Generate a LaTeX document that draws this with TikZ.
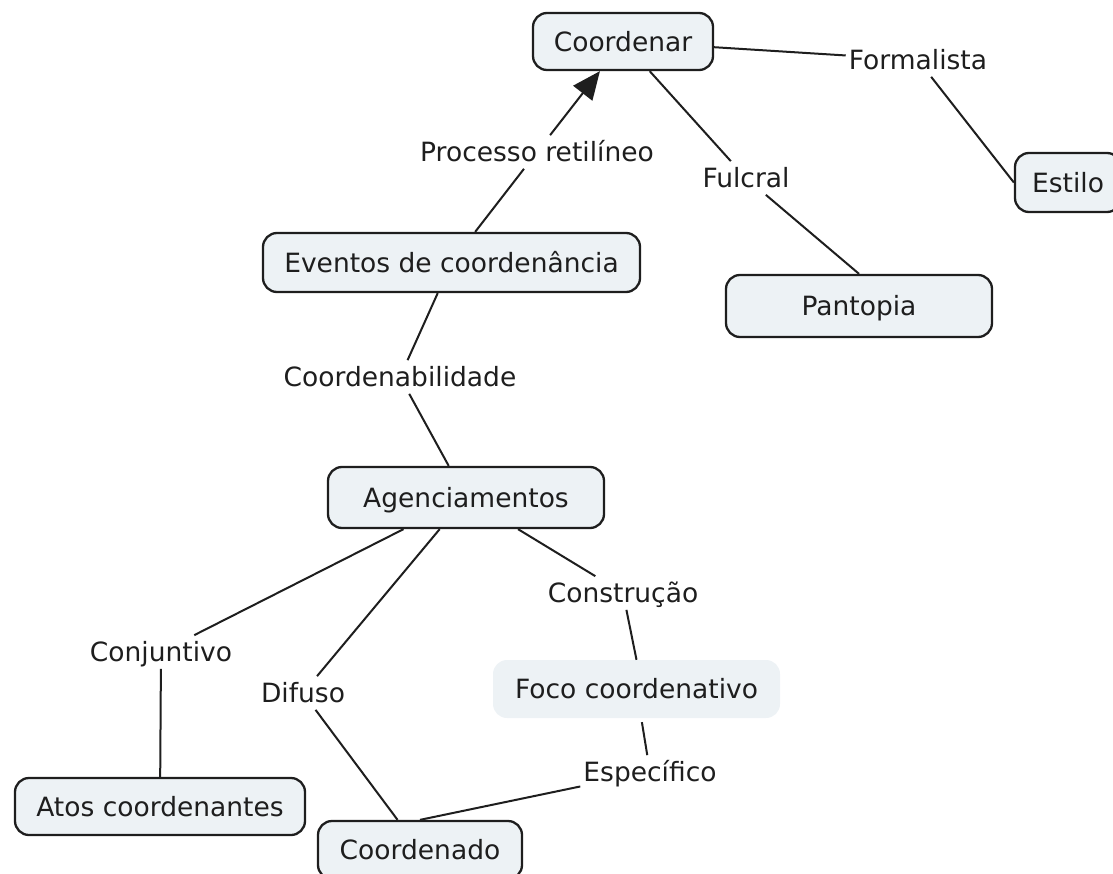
\documentclass[tikz,border=0pt]{standalone}
\usepackage{fontspec}
\setmainfont{DejaVu Sans}
\usetikzlibrary{arrows.meta}
\definecolor{boxfill}{HTML}{EDF2F5}
\definecolor{ink}{HTML}{1E1E1E}
\begin{document}
\begin{tikzpicture}[x=1pt,y=-1pt,
  font=\fontsize{26.5}{30}\selectfont,
  every node/.style={text=ink, text height=19.3pt, text depth=0pt},
  concept/.style={rectangle, rounded corners=14pt, draw=ink, fill=boxfill,
    line width=2.3pt, inner sep=0pt},
  plainbox/.style={rectangle, rounded corners=14pt, fill=boxfill, inner sep=0pt},
  linkword/.style={inner xsep=3pt, inner ysep=7pt},
  link/.style={draw=ink, line width=2pt},
  arrowlink/.style={link, -{Triangle[length=28pt,width=24pt]}}
]
\useasboundingbox (0,0) rectangle (1113,874);

% concepts
\node[concept, minimum width=180pt, minimum height=57pt] (coordenar) at (623,41.5) {Coordenar};
\node[concept, minimum width=106pt, minimum height=59pt] (estilo) at (1068,182.5) {Estilo};
\node[concept, minimum width=266pt, minimum height=62pt] (pantopia) at (859,306) {Pantopia};
\node[concept, minimum width=377pt, minimum height=59pt] (eventos) at (451.5,262.5) {Eventos de coordenância};
\node[concept, minimum width=276pt, minimum height=61pt] (agenc) at (466,497.5) {Agenciamentos};
\node[plainbox, minimum width=287pt, minimum height=58pt] (foco) at (636.5,689) {Foco coordenativo};
\node[concept, minimum width=290pt, minimum height=57pt] (atos) at (160,806.5) {Atos coordenantes};
\node[concept, minimum width=204pt, minimum height=58pt] (coordenado) at (420,850) {Coordenado};

% linking words
\node[linkword] (formalista) at (918,60) {Formalista};
\node[linkword] (processo) at (537,152) {Processo retilíneo};
\node[linkword] (fulcral) at (746,178) {Fulcral};
\node[linkword] (coordenab) at (400,377) {Coordenabilidade};
\node[linkword] (construcao) at (623,593) {Construção};
\node[linkword] (conjuntivo) at (161,652) {Conjuntivo};
\node[linkword] (difuso) at (303,693) {Difuso};
\node[linkword] (especifico) at (650,772) {Específico};

% connectors
\draw[link] (coordenar) -- (formalista);
\draw[link] (formalista) -- (estilo.west);
\draw[link] (coordenar) -- (fulcral);
\draw[link] (fulcral) -- (pantopia.north);
\draw[link] (eventos) -- (processo);
\draw[arrowlink] (processo) -- (coordenar);
\draw[link] (eventos) -- (coordenab);
\draw[link] (coordenab) -- (agenc);
\draw[link] (agenc) -- (construcao);
\draw[link] (construcao) -- (foco.north);
\draw[link, shorten <=4pt] (foco) -- (especifico);
\draw[link] (especifico) -- (coordenado.north);
\draw[link] (agenc) -- (conjuntivo);
\draw[link] (conjuntivo) -- (atos);
\draw[link] (agenc) -- (difuso);
\draw[link] (difuso) -- (coordenado);
\end{tikzpicture}
\end{document}
